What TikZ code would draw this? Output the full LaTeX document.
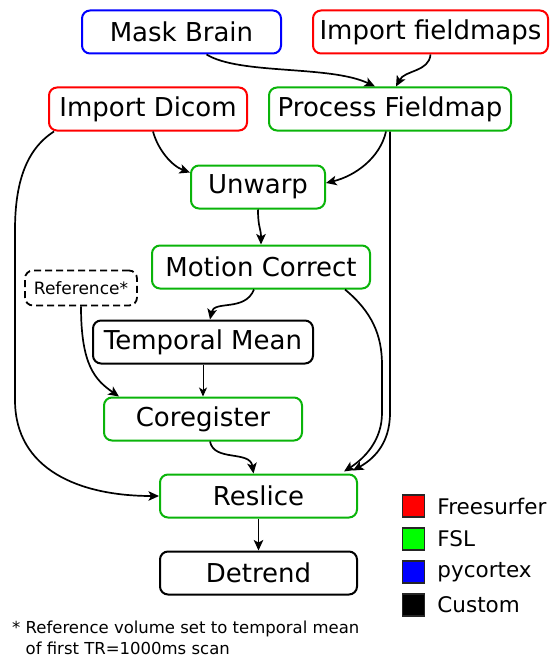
\documentclass[tikz,border=0pt]{standalone}
\usepackage{fontspec}
\setmainfont{DejaVu Sans}
\usepackage{xcolor}
\usepackage{tikz}
\usetikzlibrary{arrows.meta,positioning,calc}
\definecolor{fsred}{RGB}{255,0,0}
\definecolor{fslgreen}{RGB}{10,180,10}
\definecolor{pycblue}{RGB}{0,0,255}
\definecolor{legendgreen}{RGB}{0,255,0}
\definecolor{edgeblack}{RGB}{0,0,0}

\begin{document}
\begin{tikzpicture}[
  x=1pt,y=-1pt,
  node distance=12pt,
  every node/.style={align=center},
  stage/.style={rounded corners=8pt,line width=2pt,minimum height=43pt,
                inner sep=0pt,fill=white,font=\fontsize{26}{30}\selectfont},
  fsbox/.style={stage,draw=fsred},
  fslbox/.style={stage,draw=fslgreen},
  pycbox/.style={stage,draw=pycblue},
  custombox/.style={stage,draw=edgeblack},
  refbox/.style={draw=edgeblack,dashed,dash pattern=on 7pt off 4pt,line width=1.8pt,
                 rounded corners=8pt,minimum height=35pt,minimum width=112pt,
                 inner sep=0pt,font=\fontsize{17}{20}\selectfont},
  legsq/.style={draw=black!85,line width=1.5pt,minimum size=22pt,inner sep=0pt},
  leglabel/.style={inner sep=0pt,font=\fontsize{21.5}{25}\selectfont},
  arr/.style={-{Stealth[length=10.5pt,width=9.5pt,inset=2.5pt]},line width=1.7pt},
  thinarr/.style={-{Stealth[length=9pt,width=8pt,inset=2.5pt]},line width=1pt}
]
\useasboundingbox (0,0) rectangle (550,658);

\node[pycbox,minimum width=199pt] (mask) at (181.5,32) {Mask Brain};
\node[fsbox,minimum width=235pt] (fieldimp) at (430.5,32) {Import fieldmaps};
\node[fsbox,minimum width=198pt] (dicom) at (148,109) {Import Dicom};
\node[fslbox,minimum width=242pt] (procfield) at (390,109) {Process Fieldmap};
\node[fslbox,minimum width=134pt] (unwarp) at (258,187) {Unwarp};
\node[fslbox,minimum width=218pt] (moco) at (261,267) {Motion Correct};
\node[refbox] (reference) at (81,288) {Reference*};
\node[custombox,minimum width=220pt] (tmean) at (203,342) {Temporal Mean};
\node[fslbox,minimum width=198pt] (coreg) at (203,419) {Coregister};
\node[fslbox,minimum width=197pt] (reslice) at (258.5,496) {Reslice};
\node[custombox,minimum width=197pt] (detrend) at (258.5,573) {Detrend};

\draw[arr] ([xshift=25pt]mask.south) .. controls (240,75) and (330,65) .. ([xshift=-15pt]procfield.north);
\draw[arr] (fieldimp.south) .. controls (429,72) and (405,70) .. ([xshift=6pt]procfield.north);
\draw[arr] ([xshift=5pt]dicom.south) .. controls (158,150) and (172,166) .. ([yshift=-8pt]unwarp.north west);
\draw[arr] ([xshift=-4pt]procfield.south) .. controls (380,158) and (355,176) .. ([yshift=4pt]unwarp.east);
\draw[arr] ([xshift=-94pt]dicom.south) .. controls (25,150) and (15,185) .. (15,230)
  -- (15,400) .. controls (15,470) and (80,496) .. (reslice.west);
\draw[arr] (unwarp.south) .. controls (258,228) and (261,228) .. (moco.north);
\draw[arr] ([xshift=84pt]moco.south) .. controls (372,312) and (382,335) .. (382,365)
  -- (382,413) .. controls (382,440) and (365,458) .. ([xshift=-14pt,yshift=2pt]reslice.north east);
\draw[arr] (procfield.south) -- (390,413) .. controls (390,445) and (372,460) .. ([xshift=-5pt,yshift=3pt]reslice.north east);
\draw[arr] ([xshift=-7pt]moco.south) .. controls (245,312) and (214,300) .. ([xshift=7pt]tmean.north);
\draw[arr] (reference.south) .. controls (81,365) and (95,380) .. ([xshift=-84pt]coreg.north);
\draw[thinarr] (tmean.south) -- (coreg.north);
\draw[arr] ([xshift=7pt]coreg.south) .. controls (214,462) and (250,450) .. ([xshift=-5pt]reslice.north);
\draw[arr] (reslice.south) -- (detrend.north);

\node[legsq,fill=fsred] (sqfs) at (413.5,506) {};
\node[legsq,fill=legendgreen] (sqfsl) at (413.5,539) {};
\node[legsq,fill=pycblue] (sqpyc) at (413.5,572) {};
\node[legsq,fill=black] (sqcustom) at (413.5,605) {};
\node[leglabel,right=of sqfs] (lbfs) {Freesurfer};
\node[leglabel,right=of sqfsl] (lbfsl) {FSL};
\node[leglabel,right=of sqpyc] (lbpyc) {pycortex};
\node[leglabel,right=of sqcustom] (lbcustom) {Custom};

\node[anchor=north west,align=left,inner sep=0pt,font=\fontsize{16.5}{21}\selectfont] (footnote) at (12,621)
  {* Reference volume set to temporal mean\\\phantom{*}\ of first TR=1000ms scan};
\end{tikzpicture}
\end{document}
